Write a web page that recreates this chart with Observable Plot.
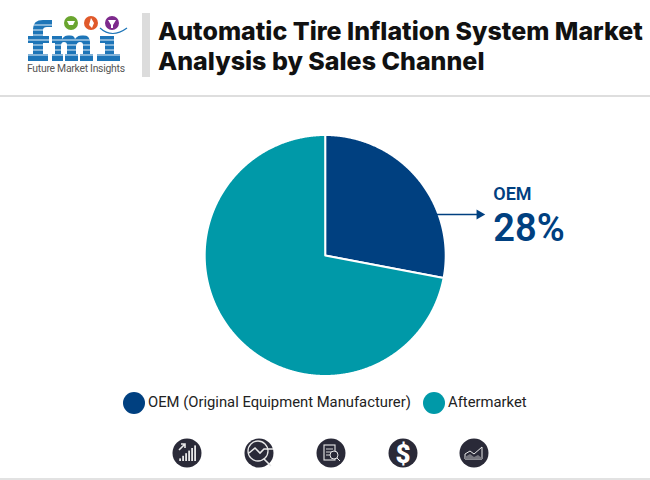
<!DOCTYPE html>
<html><head><meta charset="utf-8">
<script src="https://cdn.jsdelivr.net/npm/d3@7"></script>
<script src="https://cdn.jsdelivr.net/npm/@observablehq/plot@0.6"></script>
<style>
html,body{margin:0;padding:0;background:#fff;overflow:hidden}
#page{position:relative;width:650px;height:480px;font-family:Roboto,sans-serif}
#logo{position:absolute;left:24px;top:14px}
#bar{position:absolute;left:142px;top:13px;width:8px;height:64px;background:#dcdcdc}
#title{position:absolute;left:158px;top:16px;margin:0;font:800 25px/30px Inter,sans-serif;color:#111;white-space:nowrap}
#rule{position:absolute;left:0;top:95px;width:650px;height:2px;background:#dedede}
#chart{position:absolute;left:0;top:97px}
#legend{position:absolute;left:0;top:390px;width:650px;height:24px;font:14.8px/24px Roboto,sans-serif;color:#222}
#legend span{position:absolute;top:0;white-space:nowrap}
#legend i{position:absolute;top:2px;width:22px;height:22px;border-radius:50%}
#icons{position:absolute;left:0;top:437px}
#foot{position:absolute;left:0;top:478px;width:650px;height:2px;background:#e2e2e2}
</style></head><body>
<div id="page">
<svg id="logo" width="106" height="62" viewBox="0 0 106 62">
 <g fill="#1d75b8">
  <path d="M4 22h5V15q0-9 10-9h9v7h-5q-4 0-4 3v6h6v7h-6v11h5v7H4v-7h5V29H4z"/>
  <path d="M28 22h10v3q3-4 7-4 5 0 6 4q3-4 8-4 7 0 7 8v11h3v7H56v-7h3V31q0-3-3-3-3 0-4 4v8h2v7H41v-7h2V31q0-3-3-3-3 0-3 4v8h2v7H28v-7h3V29h-3z"/>
  <path d="M76 22h14v18h6v7H73v-7h8V29h-5z"/>
 </g>
 <g stroke="#fff" stroke-width="1" opacity=".9">
  <path d="M0 11h106M0 16h106M0 21h106M0 26h106M0 31h106M0 36h106M0 41h106"/>
 </g>
 <circle cx="47" cy="9" r="7" fill="#6aa52f"/><path d="M43 7h8l-2 4h-4z" fill="#fff"/>
 <circle cx="67" cy="9" r="7" fill="#e0592a"/><path d="M67 4l3 5-2 5-3-3z" fill="#fff"/>
 <circle cx="88" cy="9" r="7" fill="#7d2a8c"/><path d="M84 6h8l-3 5v3h-2v-3z" fill="#fff"/>
 <path d="M76 14q12 11 27 0" fill="none" stroke="#1d75b8" stroke-width="1.2"/>
 <text x="3" y="58" font-family="Roboto,sans-serif" font-size="10.4" fill="#555" textLength="98">Future Market Insights</text>
</svg>
<div id="bar"></div>
<h1 id="title">Automatic Tire Inflation System Market<br>Analysis by Sales Channel</h1>
<div id="rule"></div>
<div id="chart"></div>
<div id="legend"></div>
<svg id="icons" width="650" height="36"></svg>
<div id="foot"></div>
</div>
<script>
const channels = ["OEM", "Aftermarket"];
const shares = [28, 72];
const colors = ["#004080", "#0099a8"];
const legendLabels = ["OEM (Original Equipment Manufacturer)", "Aftermarket"];
const calloutName = "OEM";
const calloutValue = "28%";

// Pie outlines derived from the shares
const total = d3.sum(shares);
const outline = [];
let start = 0;
channels.forEach((name, k) => {
  const end = start + shares[k] / total * 2 * Math.PI;
  outline.push({name, x: 0, y: 0});
  const steps = Math.ceil((end - start) / 0.005);
  for (let s = 0; s <= steps; s++) {
    const a = start + (end - start) * s / steps;
    outline.push({name, x: Math.sin(a), y: Math.cos(a)});
  }
  outline.push({name, x: 0, y: 0});
  start = end;
});

const W = 650, H = 290, R = 120.5, cxPx = 324.7, cyPx = 158;
const chart = Plot.plot({
  width: W, height: H, margin: 0,
  style: {background: "transparent"},
  x: {axis: null, domain: [-cxPx / R, (W - cxPx) / R], range: [0, W]},
  y: {axis: null, domain: [(cyPx - H) / R, cyPx / R], range: [H, 0]},
  color: {domain: channels, range: colors},
  marks: [
    Plot.line(outline, {x: "x", y: "y", z: "name", fill: "name", stroke: "#fff", strokeWidth: 2, curve: "linear", strokeLinejoin: "round"}),
    Plot.line([{x: 0.93, y: 0.34}, {x: 1.27, y: 0.34}], {x: "x", y: "y", stroke: colors[0], strokeWidth: 1.6}),
    Plot.dot([{x: 1.28, y: 0.34}], {x: "x", y: "y", symbol: "triangle2", rotate: 90, r: 4.8, fill: colors[0]}),
    Plot.text([calloutName], {x: 1.395, y: 0.51, text: d => d, textAnchor: "start", fontSize: 18, fontWeight: 600, fill: colors[0], fontFamily: "Roboto, sans-serif"}),
    Plot.text([calloutValue], {x: 1.395, y: 0.225, text: d => d, textAnchor: "start", fontSize: 38, fontWeight: 600, fill: colors[0], fontFamily: "Roboto, sans-serif"})
  ]
});
document.getElementById("chart").append(chart);

// Legend
const legend = document.getElementById("legend");
const legendPos = [[123, 148], [423, 448]];
legendLabels.forEach((t, k) => {
  const i = document.createElement("i");
  i.style.left = legendPos[k][0] + "px"; i.style.background = colors[k];
  const s = document.createElement("span");
  s.style.left = legendPos[k][1] + "px"; s.textContent = t;
  legend.append(i, s);
});

// Footer icons
const iconX = [187, 259, 331, 403, 474];
const icons = d3.select("#icons");
iconX.forEach((x, k) => {
  const g = icons.append("g").attr("transform", `translate(${x},16)`);
  g.append("circle").attr("r", 14.5).attr("fill", "#2a2a38");
  const w = "#e8e8e8";
  if (k === 0) {
    [-7,-4,-1,2,5,8].forEach((dx, j) => g.append("rect").attr("x", dx-.8).attr("y", 8 - (j+1)*2.6).attr("width", 1.8).attr("height", (j+1)*2.6).attr("fill", w));
    g.append("path").attr("d", "M-8-3L-2-9M-6-9h4v4").attr("stroke", w).attr("stroke-width", 1.6).attr("fill", "none");
  } else if (k === 1) {
    g.append("circle").attr("cx",-1).attr("cy",-2).attr("r",10).attr("fill","none").attr("stroke",w).attr("stroke-width",1.3);
    g.append("path").attr("d","M-10 0L-4-5L1 0L5-4H14M5 6L12 13").attr("stroke",w).attr("stroke-width",1.6).attr("fill","none");
  } else if (k === 2) {
    g.append("rect").attr("x",-7).attr("y",-8).attr("width",11).attr("height",15).attr("fill","none").attr("stroke",w).attr("stroke-width",1.1);
    g.append("path").attr("d","M-5-4h7M-5-1h6M-5 2h5").attr("stroke",w).attr("stroke-width",.9);
    g.append("circle").attr("cx",3).attr("cy",2).attr("r",4).attr("fill","#2a2a38").attr("stroke",w).attr("stroke-width",1);
    g.append("path").attr("d","M6 5L9 8").attr("stroke",w);
  } else if (k === 3) {
    g.append("text").attr("text-anchor","middle").attr("y",9.5).attr("font-family","Roboto,sans-serif").attr("font-weight",900).attr("font-size",26).attr("fill","#fff").text("$");
  } else {
    g.append("path").attr("d","M-9 6V1L-4-2L0 1L8-6V6Z").attr("fill","none").attr("stroke",w).attr("stroke-width",1);
    g.append("path").attr("d","M-9 6V4L-4 1L0 4L4 2L8 5V6Z").attr("fill","#77777f");
  }
});
</script>
</body></html>
